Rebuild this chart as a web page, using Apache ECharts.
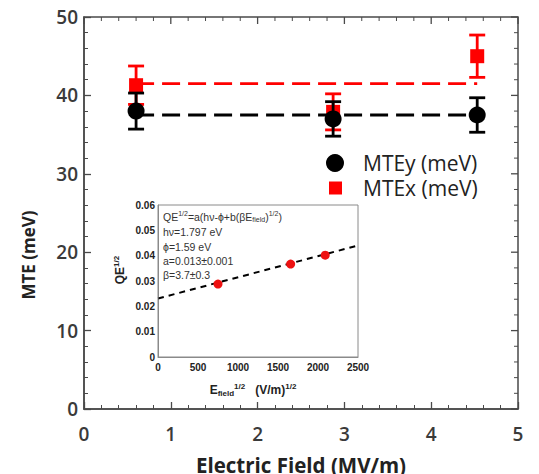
<!DOCTYPE html>
<html><head><meta charset="utf-8">
<script src="https://cdn.jsdelivr.net/npm/echarts@6/dist/echarts.min.js"></script>
<style>html,body{margin:0;padding:0;background:#fff;overflow:hidden}#c{width:539px;height:474px}</style>
</head><body><div id="c"></div>
<script>
// ---- main data ----
const fieldX = [0.6, 2.87, 4.53];
const mteY = [38.0, 37.0, 37.5];
const mteYErr = [2.3, 2.2, 2.2];
const mteX = [41.3, 37.9, 45.0];
const mteXErr = [2.45, 2.3, 2.7];
const fitRange = [0.6, 4.53];
const fitMteY = 37.5;
const fitMteX = 41.5;
const xTicks = [0, 1, 2, 3, 4, 5];
const yTicks = [0, 10, 20, 30, 40, 50];
// ---- inset data ----
const insetX = [750, 1658, 2090];
const insetQE = [0.0288, 0.0367, 0.0402];
const insetFitX = [0, 2500];
const insetFitY = [0.0231, 0.0440];
const insetXTicks = [0, 500, 1000, 1500, 2000, 2500];
const insetYTicks = [0, 0.01, 0.02, 0.03, 0.04, 0.05, 0.06];

const RED = '#ff0000', BLACK = '#000000', AX = '#4a4a4a', IAX = '#8a8a8a';
const labFont = {fontFamily: 'Open Sans', fontWeight: 600, fontSize: 19, color: '#3a3a3a'};
const insetLab = {fontFamily: 'Liberation Sans', fontWeight: 'bold', fontSize: 10, color: '#222'};

function errData(xs, vs, es) { return xs.map((x, i) => [x, vs[i] - es[i], vs[i] + es[i]]); }
function errSeries(name, data, color, z) {
  return {
    name: name, type: 'custom', xAxisIndex: 0, yAxisIndex: 0, z: z, silent: true,
    renderItem: function (params, api) {
      const x = api.value(0), lo = api.value(1), hi = api.value(2);
      const pTop = api.coord([x, hi]), pBot = api.coord([x, lo]);
      const hw = 8;
      const st = {stroke: color, lineWidth: 2.8};
      return {type: 'group', children: [
        {type: 'line', shape: {x1: pTop[0], y1: pTop[1], x2: pBot[0], y2: pBot[1]}, style: st},
        {type: 'line', shape: {x1: pTop[0] - hw, y1: pTop[1], x2: pTop[0] + hw, y2: pTop[1]}, style: st},
        {type: 'line', shape: {x1: pBot[0] - hw, y1: pBot[1], x2: pBot[0] + hw, y2: pBot[1]}, style: st}
      ]};
    },
    encode: {x: 0, y: [1, 2]},
    data: data
  };
}

function minorVals(ticks, n) {
  const out = [];
  for (let i = 0; i < ticks.length - 1; i++) {
    const step = (ticks[i + 1] - ticks[i]) / n;
    for (let k = 1; k < n; k++) out.push(ticks[i] + k * step);
  }
  return out;
}

const mainAxisCommon = {
  axisLine: {show: true, onZero: false, lineStyle: {color: AX, width: 1.5}},
  axisTick: {show: true, inside: true, length: 7, lineStyle: {color: AX, width: 1.3}},
  minorTick: {show: true, splitNumber: 5, length: 4, lineStyle: {color: AX, width: 1}},
  splitLine: {show: false}
};

function rt(fs, extra) {
  return Object.assign({fontFamily: 'Liberation Sans', fontSize: fs, fill: '#333', color: '#333', verticalAlign: 'middle'}, extra || {});
}
const richBold = {
  t: rt(12, {fontWeight: 'bold', fill: '#222'}),
  sup: rt(8, {fontWeight: 'bold', fill: '#222', padding: [0, 0, 8, 0]}),
  sub: rt(8, {fontWeight: 'bold', fill: '#222', padding: [6, 0, 0, 0]})
};
const richNorm = {
  t: rt(10.5),
  sup: rt(7, {padding: [0, 0, 7, 0]}),
  sub: rt(7, {padding: [5, 0, 0, 0]})
};
function txt(id, x, y, s) {
  return {id: id, type: 'text', x: x, y: y, z: 100, style: {text: s, rich: richNorm, verticalAlign: 'middle', align: 'left'}};
}

const option = {
  animation: false,
  backgroundColor: '#fff',
  grid: [
    {left: 84, top: 17, right: 21, bottom: 65, outerBoundsMode: 'none', containLabel: false},
    {left: 158, top: 205, width: 200, height: 152, outerBoundsMode: 'none', containLabel: false}
  ],
  legend: [
    {data: [{name: 'MTEy (meV)', icon: 'circle'}], left: 326, top: 152, orient: 'vertical', padding: 0,
      itemWidth: 18, itemHeight: 18,
      textStyle: {fontFamily: 'Open Sans', fontSize: 21, color: '#222', lineHeight: 22, padding: [0, 0, 0, 14]}},
    {data: [{name: 'MTEx (meV)', icon: 'rect'}], left: 329, top: 177, orient: 'vertical', padding: 0,
      itemWidth: 13, itemHeight: 13,
      textStyle: {fontFamily: 'Open Sans', fontSize: 21, color: '#222', lineHeight: 22, padding: [0, 0, 0, 16]}}
  ],
  xAxis: [
    Object.assign({}, mainAxisCommon, {type: 'value', gridIndex: 0, min: xTicks[0], max: xTicks[xTicks.length - 1], interval: 1,
      position: 'bottom',
      axisLabel: Object.assign({margin: 15, formatter: v => String(v)}, labFont),
      name: 'Electric Field (MV/m)', nameLocation: 'middle', nameGap: 45,
      nameTextStyle: {fontFamily: 'Open Sans', fontWeight: 'bold', fontSize: 20.5, color: '#222'}}),
    {type: 'value', gridIndex: 1, min: insetXTicks[0], max: insetXTicks[insetXTicks.length - 1], interval: 500,
      position: 'bottom',
      axisLine: {show: true, onZero: false, lineStyle: {color: IAX, width: 1}},
      axisTick: {show: false}, splitLine: {show: false},
      axisLabel: Object.assign({margin: 5, formatter: v => String(v)}, insetLab)}
  ],
  yAxis: [
    Object.assign({}, mainAxisCommon, {type: 'value', gridIndex: 0, min: yTicks[0], max: yTicks[yTicks.length - 1], interval: 10,
      position: 'left', axisLabel: Object.assign({margin: 6}, labFont)}),
    {type: 'value', gridIndex: 1, min: insetYTicks[0], max: insetYTicks[insetYTicks.length - 1], interval: 0.01,
      position: 'left',
      axisLine: {show: true, onZero: false, lineStyle: {color: IAX, width: 1}},
      axisTick: {show: false}, splitLine: {show: false},
      axisLabel: Object.assign({margin: 3, formatter: v => v === 0 ? '0' : v.toFixed(2)}, insetLab)}
  ],
  graphic: {elements: [
    {id: 'ytitle', type: 'text', x: 28, y: 255, rotation: Math.PI / 2, z: 100,
      style: {text: 'MTE (meV)', fontFamily: 'Open Sans', fontWeight: 'bold', fontSize: 17, fill: '#222', align: 'center', verticalAlign: 'middle'}},
    {id: 'iytitle', type: 'text', x: 120, y: 270, rotation: Math.PI / 2, z: 100,
      style: {text: '{t|QE}{sup|1/2}', rich: richBold, align: 'center', verticalAlign: 'middle'}},
    {id: 'ixtitle', type: 'text', x: 253, y: 390, z: 100,
      style: {text: '{t|E}{sub|field}{sup|1/2}{t|   (V/m)}{sup|1/2}', rich: richBold, align: 'center', verticalAlign: 'middle'}},
    txt('l1', 163, 217, '{t|QE}{sup|1/2}{t|=a(hν-ϕ+b(βE}{sub|field}{t|)}{sup|1/2}{t|)}'),
    txt('l2', 163, 232, '{t|hν=1.797 eV}'),
    txt('l3', 163, 247, '{t|ϕ=1.59 eV}'),
    txt('l4', 163, 261, '{t|a=0.013±0.001}'),
    txt('l5', 163, 275, '{t|β=3.7±0.3}')
  ]},
  series: [
    {name: 'MTEx fit', type: 'line', xAxisIndex: 0, yAxisIndex: 0, z: 2, symbol: 'none', silent: true,
      lineStyle: {color: RED, width: 2.8, type: [18, 8]},
      data: fitRange.map(x => [x, fitMteX])},
    errSeries('MTEx err', errData(fieldX, mteX, mteXErr), RED, 3),
    {name: 'MTEx (meV)', type: 'scatter', xAxisIndex: 0, yAxisIndex: 0, z: 4, symbol: 'rect', symbolSize: 14,
      itemStyle: {color: RED, opacity: 1}, data: fieldX.map((x, i) => [x, mteX[i]])},
    {name: 'MTEy fit', type: 'line', xAxisIndex: 0, yAxisIndex: 0, z: 5, symbol: 'none', silent: true,
      lineStyle: {color: BLACK, width: 2.8, type: [18, 8]},
      data: fitRange.map(x => [x, fitMteY])},
    errSeries('MTEy err', errData(fieldX, mteY, mteYErr), BLACK, 6),
    {name: 'MTEy (meV)', type: 'scatter', xAxisIndex: 0, yAxisIndex: 0, z: 7, symbol: 'circle', symbolSize: 17,
      itemStyle: {color: BLACK, opacity: 1}, data: fieldX.map((x, i) => [x, mteY[i]])},
    {name: 'inset fit', type: 'line', xAxisIndex: 1, yAxisIndex: 1, z: 20, symbol: 'none', silent: true,
      lineStyle: {color: BLACK, width: 2, type: [6, 5]},
      data: insetFitX.map((x, i) => [x, insetFitY[i]])},
    {name: 'inset QE', type: 'scatter', xAxisIndex: 1, yAxisIndex: 1, z: 21, symbol: 'circle', symbolSize: 9,
      itemStyle: {color: '#ee1111', opacity: 1}, data: insetX.map((x, i) => [x, insetQE[i]])}
  ]
};
const chart = echarts.init(document.getElementById('c'), null, {renderer: 'svg'});
chart.setOption(option);

// Full frame (rectangle) plus top/right inward ticks, placed through the grids' own scales.
function frameElements(idp, gridIndex, xs, ys, nMinor, color, width, withTicks) {
  const px = v => chart.convertToPixel({gridIndex: gridIndex}, v);
  const xa = xs[0], xb = xs[xs.length - 1], ya = ys[0], yb = ys[ys.length - 1];
  const tl = px([xa, yb]), br = px([xb, ya]);
  const els = [{id: idp + 'box', type: 'rect', z: 50, silent: true,
    shape: {x: tl[0], y: tl[1], width: br[0] - tl[0], height: br[1] - tl[1]},
    style: {stroke: color, lineWidth: width, fill: 'none'}}];
  if (withTicks) {
    const segs = [];
    xs.forEach(v => segs.push([px([v, yb]), 7]));
    minorVals(xs, nMinor).forEach(v => segs.push([px([v, yb]), 4]));
    segs.forEach((s, i) => els.push({id: idp + 'tt' + i, type: 'line', z: 50, silent: true,
      shape: {x1: s[0][0], y1: s[0][1], x2: s[0][0], y2: s[0][1] + s[1]}, style: {stroke: color, lineWidth: s[1] > 5 ? 1.3 : 1}}));
    const rsegs = [];
    ys.forEach(v => rsegs.push([px([xb, v]), 7]));
    minorVals(ys, nMinor).forEach(v => rsegs.push([px([xb, v]), 4]));
    rsegs.forEach((s, i) => els.push({id: idp + 'rt' + i, type: 'line', z: 50, silent: true,
      shape: {x1: s[0][0], y1: s[0][1], x2: s[0][0] - s[1], y2: s[0][1]}, style: {stroke: color, lineWidth: s[1] > 5 ? 1.3 : 1}}));
  }
  return els;
}
chart.setOption({graphic: {elements: [].concat(
  frameElements('m', 0, xTicks, yTicks, 5, AX, 1.5, true),
  frameElements('i', 1, insetXTicks, insetYTicks, 1, IAX, 1, false)
)}});
</script></body></html>
